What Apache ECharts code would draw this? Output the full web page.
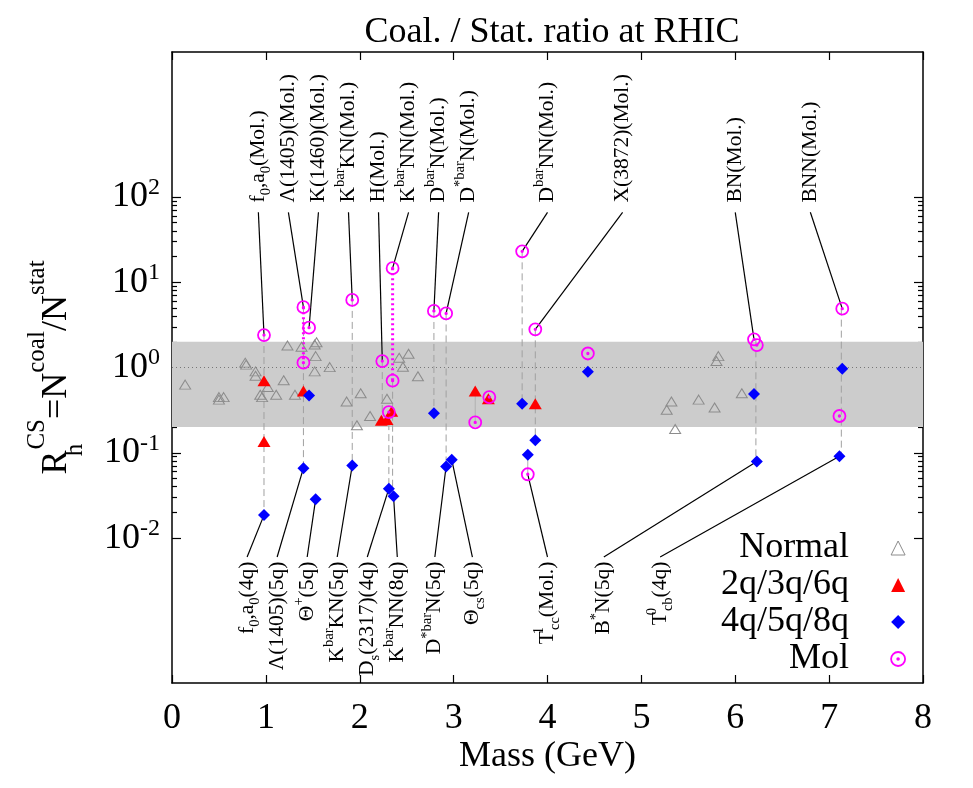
<!DOCTYPE html>
<html>
<head>
<meta charset="utf-8">
<title>Coal. / Stat. ratio at RHIC</title>
<script src="https://cdn.jsdelivr.net/npm/echarts@6.0.0/dist/echarts.min.js"></script>
<style>
  html, body { margin: 0; padding: 0; background: #fff; }
  #main { width: 973px; height: 788px; }
</style>
</head>
<body>
<div id="main"></div>
<script type="text/javascript">
// ---- data (mass in GeV, ratio) ----
var normalPts = [
  [0.14, 0.63], [0.50, 0.45], [0.55, 0.45], [0.50, 0.42], [0.78, 1.14], [0.79, 1.08],
  [0.89, 0.90], [0.89, 0.80], [0.94, 0.48], [0.96, 0.45], [1.02, 0.59], [1.19, 0.71],
  [1.11, 0.48], [1.23, 1.81], [1.31, 0.48], [1.38, 1.75], [1.52, 1.86], [1.54, 1.98],
  [1.53, 1.36], [1.52, 0.90], [1.68, 1.01], [1.86, 0.40], [2.01, 0.50], [1.97, 0.21],
  [2.11, 0.27], [2.29, 0.43], [2.42, 1.30], [2.52, 1.45], [2.46, 1.02], [2.62, 0.79],
  [5.32, 0.40], [5.27, 0.32], [5.36, 0.19], [5.82, 1.36], [5.80, 1.19], [6.07, 0.50],
  [5.61, 0.42], [5.78, 0.34]
];
var quark2Pts = [
  [0.98, 0.70], [0.98, 0.136], [1.40, 0.53], [2.23, 0.24], [2.29, 0.245], [2.34, 0.306],
  [3.23, 0.53], [3.37, 0.43], [3.87, 0.377]
];
var quark4Pts = [
  [0.98, 0.0186], [1.40, 0.066], [1.46, 0.47], [1.53, 0.0285], [1.92, 0.071], [2.31, 0.038],
  [2.36, 0.031], [2.79, 0.29], [2.92, 0.069], [2.98, 0.083], [3.73, 0.377], [3.87, 0.14],
  [3.79, 0.095], [4.43, 0.89], [6.20, 0.49], [6.23, 0.079], [7.14, 0.97], [7.11, 0.091]
];
var molPts = [
  [0.98, 2.4], [1.40, 5.1], [1.40, 1.14], [1.46, 2.93], [1.92, 6.2], [2.24, 1.19],
  [2.35, 14.6], [2.35, 0.70], [2.31, 0.30], [2.79, 4.6], [2.92, 4.3], [3.23, 0.227],
  [3.38, 0.45], [3.73, 23], [3.87, 2.8], [3.79, 0.056], [4.43, 1.46], [6.20, 2.14],
  [6.23, 1.83], [7.14, 4.9], [7.11, 0.27]
];
// [mass, upper ratio, lower ratio]
var dashLinks = [
  [0.98, 2.4, 0.0186], [1.40, 5.1, 0.066], [1.92, 6.2, 0.071], [2.24, 1.19, 0.24],
  [2.31, 0.30, 0.038], [2.35, 0.70, 0.031], [2.79, 4.6, 0.29], [2.92, 4.3, 0.069],
  [3.73, 23, 0.377], [3.87, 2.8, 0.14], [6.22, 2.14, 0.079], [7.13, 4.9, 0.091]
];
var thinLinks = [[3.23, 0.53, 0.227], [3.79, 0.095, 0.056]];
var molDotted = [[1.40, 5.1, 1.14], [2.35, 14.6, 0.70]];
var bandRange = [0.2, 2];

var topNames = [
  'f{sb|0},a{sb|0}(Mol.)', 'Λ(1405)(Mol.)', 'K(1460)(Mol.)', 'K{sp|bar}KN(Mol.)',
  'H(Mol.)', 'K{sp|bar}NN(Mol.)', 'D{sp|bar}N(Mol.)', 'D{sp|*bar}N(Mol.)',
  'D{sp|bar}NN(Mol.)', 'X(3872)(Mol.)', 'BN(Mol.)', 'BNN(Mol.)'
];
var topLabelMass = [0.92, 1.24, 1.56, 1.88, 2.20, 2.52, 2.84, 3.16, 4.00, 4.80, 6.00, 6.80];
var topTargets = [
  [0.98, 2.4], [1.40, 5.1], [1.46, 2.93], [1.92, 6.2], [2.24, 1.19], [2.35, 14.6],
  [2.79, 4.6], [2.92, 4.3], [3.73, 23], [3.87, 2.8], [6.20, 2.14], [7.14, 4.9]
];
var bottomNames = [
  'f{sb|0},a{sb|0}(4q)', 'Λ(1405)(5q)', 'Θ{sp|+}(5q)', 'K{sp|bar}KN(5q)',
  'D{sb|s}(2317)(4q)', 'K{sp|bar}NN(8q)', 'D{sp|*bar}N(5q)', 'Θ{sb|cs}(5q)',
  'T{st|1}{sb|cc}(Mol.)', 'B{sp|*}N(5q)', 'T{st|0}{sb|cb}(4q)'
];
var bottomLabelMass = [0.80, 1.12, 1.44, 1.76, 2.08, 2.40, 2.80, 3.20, 4.00, 4.60, 5.20];
var bottomTargets = [
  [0.98, 0.0186], [1.40, 0.066], [1.53, 0.0285], [1.92, 0.071], [2.31, 0.038],
  [2.36, 0.031], [2.92, 0.069], [2.98, 0.083], [3.79, 0.056], [6.23, 0.079], [7.11, 0.091]
];

var yMajorTicks = [0.01, 0.1, 1, 10, 100];
var xTicks = [0, 1, 2, 3, 4, 5, 6, 7, 8];

// ---- helpers ----
var serif = '"Liberation Serif", "Times New Roman", serif';
var yMin = 2e-4, yMax = 5000;
var topLeaderY = 66, topTextY = 86, botLeaderY = 0.006, botTextY = 0.0053;

var yMinorTicks = [];
for (var k = -2; k <= 1; k++) {
  for (var m = 2; m <= 9; m++) yMinorTicks.push(parseFloat((m * Math.pow(10, k)).toPrecision(3)));
}

var labelRich = {
  sp: { fontSize: 14.5, lineHeight: 14.5, verticalAlign: 'top', fontFamily: serif, fill: '#000' },
  sb: { fontSize: 14.5, lineHeight: 14.5, verticalAlign: 'bottom', fontFamily: serif, fill: '#000' },
  st: { fontSize: 14.5, lineHeight: 14.5, verticalAlign: 'top', width: 1, align: 'left', fontFamily: serif, fill: '#000' }
};

function segmentSeries(name, rows, color, width, dash, z) {
  return {
    type: 'custom', name: name, silent: true, z: z, data: rows,
    renderItem: function (params, api) {
      var a = api.coord([api.value(0), api.value(1)]);
      var b = api.coord([api.value(2), api.value(3)]);
      return {
        type: 'line',
        shape: { x1: a[0], y1: a[1], x2: b[0], y2: b[1] },
        style: { stroke: color, lineWidth: width, lineDash: dash }
      };
    }
  };
}

function vertical(rows) {
  return rows.map(function (r) { return [r[0], r[1], r[0], r[2]]; });
}

function textSeries(names, masses, yVal, align) {
  return {
    type: 'custom', silent: true, z: 6,
    data: masses.map(function (x) { return [x, yVal]; }),
    renderItem: function (params, api) {
      var p = api.coord([api.value(0), api.value(1)]);
      return {
        type: 'text', x: p[0], y: p[1], rotation: Math.PI / 2,
        style: {
          text: names[params.dataIndex], fill: '#000',
          fontFamily: serif, fontSize: 21.5, lineHeight: 31,
          align: align, verticalAlign: 'middle', rich: labelRich
        }
      };
    }
  };
}

function yAxisDef(pos, ticks, len, showLine, showLabel) {
  return {
    type: 'log', position: pos, min: yMin, max: yMax, logBase: 10,
    axisLine: { show: showLine, lineStyle: { color: '#000', width: 1.5 } },
    axisTick: { show: true, inside: true, length: len, customValues: ticks, lineStyle: { color: '#000', width: 1.2 } },
    splitLine: { show: false },
    axisLabel: showLabel ? {
      customValues: ticks, margin: 12,
      formatter: function (v) { return '{b|10}{s|' + Math.round(Math.log10(v)) + '}'; },
      rich: {
        b: { fontSize: 36, lineHeight: 43, fontFamily: serif, color: '#000' },
        s: { fontSize: 24, lineHeight: 24, verticalAlign: 'top', fontFamily: serif, color: '#000' }
      }
    } : { show: false }
  };
}

function xAxisDef(pos, showLabel) {
  return {
    type: 'value', position: pos, min: 0, max: 8, interval: 1,
    axisLine: { show: true, lineStyle: { color: '#000', width: 1.5 } },
    axisTick: { show: true, inside: true, length: 8, lineStyle: { color: '#000', width: 1.2 } },
    splitLine: { show: false },
    axisLabel: showLabel ? {
      margin: 18, fontSize: 36, lineHeight: 36, fontFamily: serif, color: '#000',
      formatter: function (v) { return xTicks.indexOf(v) >= 0 ? String(v) : ''; }
    } : { show: false },
    name: showLabel ? 'Mass (GeV)' : '',
    nameLocation: 'middle', nameGap: 56, nameMoveOverlap: false,
    nameTextStyle: { fontSize: 36, lineHeight: 36, fontFamily: serif, color: '#000' }
  };
}

var myChart = echarts.init(document.getElementById('main'), null, { renderer: 'canvas' });

var yLeft = yAxisDef('left', yMajorTicks, 9, true, true);
yLeft.name = '{b|R}{hs|h}{cs|CS}{b|=N}{sp|coal}{b|/N}{sp|stat}';
yLeft.nameLocation = 'middle';
yLeft.nameRotate = 90;
yLeft.nameGap = 84;
yLeft.nameMoveOverlap = false;
yLeft.nameTextStyle = {
  fontFamily: serif, color: '#000',
  rich: {
    b: { fontSize: 36, lineHeight: 63, fontFamily: serif, color: '#000' },
    hs: { fontSize: 25, lineHeight: 25, verticalAlign: 'bottom', width: 1, align: 'left', fontFamily: serif, color: '#000' },
    cs: { fontSize: 25, lineHeight: 25, verticalAlign: 'top', fontFamily: serif, color: '#000' },
    sp: { fontSize: 25, lineHeight: 25, verticalAlign: 'top', fontFamily: serif, color: '#000' }
  }
};

var option = {
  animation: false,
  backgroundColor: '#fff',
  title: {
    text: 'Coal. / Stat. ratio at RHIC', left: 547, top: 10, textAlign: 'center',
    textStyle: { fontFamily: serif, fontSize: 36, fontWeight: 'normal', color: '#000' }
  },
  grid: { left: 172, right: 50, top: 52, bottom: 105, containLabel: false, outerBoundsMode: 'none' },
  legend: {
    orient: 'vertical', align: 'right', right: 62, top: 525,
    itemWidth: 14, itemHeight: 14, itemGap: 1,
    textStyle: { fontFamily: serif, fontSize: 36, lineHeight: 36, color: '#000', padding: [0, 37, 0, 0] },
    data: [
      { name: 'Normal', icon: 'triangle', itemStyle: { color: 'rgba(0,0,0,0)', borderColor: '#8c8c8c', borderWidth: 1, opacity: 1 } },
      { name: '2q/3q/6q', icon: 'triangle', itemStyle: { color: '#ff0000', borderWidth: 0, opacity: 1 } },
      { name: '4q/5q/8q', icon: 'diamond', itemStyle: { color: '#0000ff', borderWidth: 0, opacity: 1 } },
      { name: 'Mol', icon: 'path://M8 0A8 8 0 1 1-8 0A8 8 0 1 1 8 0ZM1 0A1 1 0 1 1-1 0A1 1 0 1 1 1 0Z',
        itemStyle: { color: 'rgba(0,0,0,0)', borderColor: '#ff00ff', borderWidth: 1.8, opacity: 1 } }
    ]
  },
  xAxis: [xAxisDef('bottom', true), xAxisDef('top', false)],
  yAxis: [
    yLeft,
    yAxisDef('left', yMinorTicks, 5, false, false),
    yAxisDef('right', yMajorTicks, 9, true, false),
    yAxisDef('right', yMinorTicks, 5, false, false)
  ],
  series: [
    {
      type: 'line', name: 'band', data: [], z: 1, silent: true,
      markArea: {
        silent: true, itemStyle: { color: '#cccccc' },
        data: [[{ yAxis: bandRange[0] }, { yAxis: bandRange[1] }]]
      },
      markLine: {
        silent: true, symbol: 'none', label: { show: false },
        lineStyle: { color: '#777', type: [1, 3], width: 1 },
        data: [{ yAxis: 1 }]
      }
    },
    segmentSeries('dash', vertical(dashLinks), '#a0a0a0', 1, [7, 4], 3),
    segmentSeries('thin', vertical(thinLinks), '#b0b0b0', 1, null, 3),
    segmentSeries('dot', vertical(molDotted), '#ff00ff', 3, [2, 3], 3),
    segmentSeries('leaderTop', topTargets.map(function (t, i) { return [topLabelMass[i], topLeaderY, t[0], t[1]]; }), '#000', 1.2, null, 4),
    segmentSeries('leaderBottom', bottomTargets.map(function (t, i) { return [bottomLabelMass[i], botLeaderY, t[0], t[1]]; }), '#000', 1.2, null, 4),
    textSeries(topNames, topLabelMass, topTextY, 'left'),
    textSeries(bottomNames, bottomLabelMass, botTextY, 'right'),
    {
      type: 'scatter', name: 'Normal', data: normalPts, z: 5, symbol: 'triangle', symbolSize: [11, 9],
      itemStyle: { color: 'rgba(0,0,0,0)', borderColor: '#8c8c8c', borderWidth: 1, opacity: 1 }
    },
    {
      type: 'scatter', name: '2q/3q/6q', data: quark2Pts, z: 5, symbol: 'triangle', symbolSize: [13, 11],
      itemStyle: { color: '#ff0000', opacity: 1 }
    },
    {
      type: 'scatter', name: '4q/5q/8q', data: quark4Pts, z: 5, symbol: 'diamond', symbolSize: 12,
      itemStyle: { color: '#0000ff', opacity: 1 }
    },
    {
      type: 'scatter', name: 'Mol', data: molPts, z: 5,
      symbol: 'path://M8 0A8 8 0 1 1-8 0A8 8 0 1 1 8 0ZM1 0A1 1 0 1 1-1 0A1 1 0 1 1 1 0Z', symbolSize: 12,
      itemStyle: { color: 'rgba(0,0,0,0)', borderColor: '#ff00ff', borderWidth: 1.8, opacity: 1 }
    }
  ]
};

myChart.setOption(option);
</script>
</body>
</html>
